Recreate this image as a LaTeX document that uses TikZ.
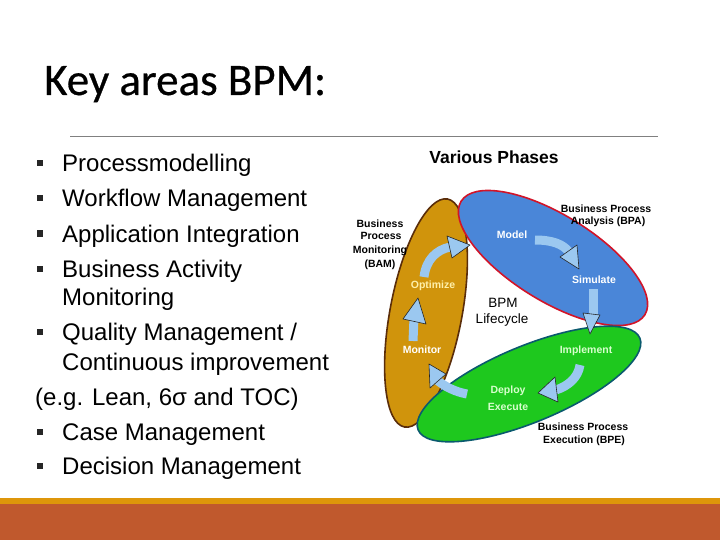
\documentclass[tikz,border=0pt]{standalone}
\usepackage{fontspec}
\setmainfont{Liberation Sans}
\newfontfamily\titlefont[FakeBold=0.6]{Carlito}
\definecolor{rust}{RGB}{192,89,45}
\definecolor{goldbar}{RGB}{222,150,10}
\definecolor{goldfill}{RGB}{208,148,12}
\definecolor{goldline}{RGB}{90,45,10}
\definecolor{bluefill}{RGB}{74,134,216}
\definecolor{blueline}{RGB}{210,20,40}
\definecolor{greenfill}{RGB}{30,200,30}
\definecolor{greenline}{RGB}{10,90,110}
\definecolor{arrowblue}{RGB}{155,200,240}
\definecolor{paleyellow}{RGB}{255,240,170}
\definecolor{palegreen}{RGB}{215,255,205}
\tikzset{
  bullettext/.style={anchor=base west, inner sep=0, font=\fontsize{24}{28}\selectfont},
  bulletsq/.style={fill=black!85},
  blacklabel/.style={anchor=base, inner sep=0, font=\bfseries\fontsize{10.5}{12}\selectfont},
  phaselabel/.style={anchor=base, inner sep=0, font=\bfseries\fontsize{10.5}{12}\selectfont},
  arrowbody/.style={draw=arrowblue, line width=9pt},
  arrowhead/.style={fill=arrowblue, draw=black!85, line width=0.6pt, line join=round},
}
\begin{document}
\begin{tikzpicture}[x=1pt,y=-1pt]
\useasboundingbox (0,0) rectangle (720,540);
\fill[white] (0,0) rectangle (720,540);
% bottom bars
\fill[rust] (0,504) rectangle (720,540);
\fill[goldbar] (0,498) rectangle (720,504);
% rule
\draw[black!50, line width=0.8pt] (70,136) -- (658,136);
% title
\node[anchor=base west, inner sep=0, font=\titlefont\fontsize{45}{50}\selectfont] (title) at (44,95) {Key areas BPM:};
% bullets
\foreach \yy in {163.5,198.5,233.5,268.5,331.5,431.5,466} {\fill[bulletsq] (37,\yy-3) rectangle ++(6,6);}
\node[bullettext] (b1) at (62,172) {Processmodelling};
\node[bullettext] (b2) at (62,207) {Workflow Management};
\node[bullettext] (b3) at (62,242) {Application Integration};
\node[bullettext] (b4) at (62,277) {Business Activity};
\node[bullettext] (b4b) at (62,305) {Monitoring};
\node[bullettext] (b5) at (62,340) {Quality Management /};
\node[bullettext] (b5b) at (62,370) {Continuous improvement};
\node[bullettext] (b6) at (35,405) {(e.g. Lean, 6σ and TOC)};
\node[bullettext] (b7) at (62,440) {Case Management};
\node[bullettext] (b8) at (62,474) {Decision Management};
% diagram heading
\node[anchor=base, inner sep=0, font=\bfseries\fontsize{17.5}{20}\selectfont] (vp) at (494,164) {Various Phases};
% ellipses
\filldraw[fill=goldfill, draw=goldline, line width=1.6pt, rotate around={79.3:(426,313)}] (426,313) ellipse [x radius=116, y radius=36];
\filldraw[fill=bluefill, draw=blueline, line width=1.6pt, rotate around={-31.7:(553,258)}] (553,258) ellipse [x radius=108, y radius=43];
\filldraw[fill=greenfill, draw=greenline, line width=1.6pt, rotate around={22.5:(529,384)}] (529,384) ellipse [x radius=120, y radius=38];
% arrows
\draw[arrowbody] (424,277) .. controls (426,260) and (436,250) .. (450,247);
\filldraw[arrowhead] (447,236) -- (470,245) -- (452,258) -- cycle;
\draw[arrowbody] (535,240) .. controls (552,240) and (563,244) .. (569,252);
\filldraw[arrowhead] (560,257) -- (577,245) -- (579,269) -- cycle;
\draw[arrowbody] (593,289) -- (593,315);
\filldraw[arrowhead] (583,313) -- (600,315) -- (590,334) -- cycle;
\draw[arrowbody] (580,365) .. controls (578,378) and (568,386) .. (556,390);
\filldraw[arrowhead] (555,377) -- (558,402) -- (538,393) -- cycle;
\draw[arrowbody] (467,394) .. controls (456,392) and (445,387) .. (437,380);
\filldraw[arrowhead] (429,364) -- (446,374) -- (430,388) -- cycle;
\draw[arrowbody] (413,341) -- (414,318);
\filldraw[arrowhead] (403,319) -- (418,298) -- (426,324) -- cycle;
% phase labels
\node[phaselabel, text=paleyellow] (opt) at (433,288) {Optimize};
\node[phaselabel, text=white] (mod) at (512,238) {Model};
\node[phaselabel, text=white] (sim) at (594,283) {Simulate};
\node[phaselabel, text=palegreen] (imp) at (586,353) {Implement};
\node[phaselabel, text=palegreen] (dep) at (508,393) {Deploy};
\node[phaselabel, text=palegreen] (exe) at (508,410) {Execute};
\node[phaselabel, text=white] (mon) at (422,353) {Monitor};
% black labels
\node[blacklabel] (bam1) at (380,227) {Business};
\node[blacklabel] (bam2) at (381,240) {Process};
\node[blacklabel] (bam3) at (380,253) {Monitoring};
\node[blacklabel] (bam4) at (380,267) {(BAM)};
\node[blacklabel] (bpa1) at (606,212) {Business Process};
\node[blacklabel] (bpa2) at (608,225) {Analysis (BPA)};
\node[blacklabel] (bpe1) at (583,430) {Business Process};
\node[blacklabel] (bpe2) at (584,443) {Execution (BPE)};
\node[anchor=base, inner sep=0, font=\fontsize{13.5}{15}\selectfont] (bpm1) at (503,307) {BPM};
\node[anchor=base, inner sep=0, font=\fontsize{13.5}{15}\selectfont] (bpm2) at (502,323) {Lifecycle};
\end{tikzpicture}
\end{document}
